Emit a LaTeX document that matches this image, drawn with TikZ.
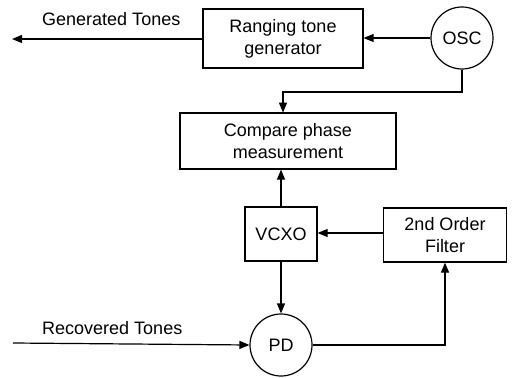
\documentclass[tikz,border=0pt]{standalone}
\usepackage{fontspec}
\setmainfont{Liberation Sans}
\usetikzlibrary{arrows.meta}
\begin{document}
\begin{tikzpicture}[x=1pt,y=-1pt,
  box/.style={draw,line width=1.2pt,rectangle,inner sep=0pt,align=center,font=\fontsize{18}{22}\selectfont},
  circ/.style={draw,line width=1.2pt,circle,inner sep=0pt,font=\fontsize{18}{22}\selectfont},
  lbl/.style={font=\fontsize{18}{22}\selectfont,inner sep=0pt},
  conn/.style={line width=1.2pt,-{Triangle[length=10pt,width=8pt]}}]
\useasboundingbox (0,0) rectangle (513,377);
\node[box,minimum width=160pt,minimum height=59pt] (rtg) at (283,38.5) {Ranging tone\\generator};
\node[circ,minimum size=62pt] (osc) at (462,38) {OSC};
\node[box,minimum width=216pt,minimum height=56pt] (cpm) at (288,141) {Compare phase\\measurement};
\node[box,minimum width=72pt,minimum height=54pt] (vcxo) at (281,234) {VCXO};
\node[box,minimum width=123pt,minimum height=54pt] (flt) at (445,235) {2nd Order\\Filter};
\node[circ,minimum size=62pt] (pd) at (281,345) {PD};
\coordinate (gen) at (12,39);
\coordinate (rec) at (13,343);
\node[lbl,anchor=west] (gt) at (42,19) {Generated Tones};
\node[lbl,anchor=west] (rt) at (42,328) {Recovered Tones};
\draw[conn] (osc.west) -- (rtg.east |- osc.west);
\draw[conn] (rtg.west |- gen) -- (gen);
\draw[conn] (osc.south) |- (283,92) -- (283,112.6);
\draw[conn] (vcxo.north) -- (vcxo.north |- cpm.south);
\draw[conn] (flt.west |- 0,233) -- (vcxo.east |- 0,233);
\draw[conn] (vcxo.south) -- (pd.north);
\draw[conn] (rec) -- (pd.west);
\draw[conn] (pd.east) -| (flt.south);
\end{tikzpicture}
\end{document}
